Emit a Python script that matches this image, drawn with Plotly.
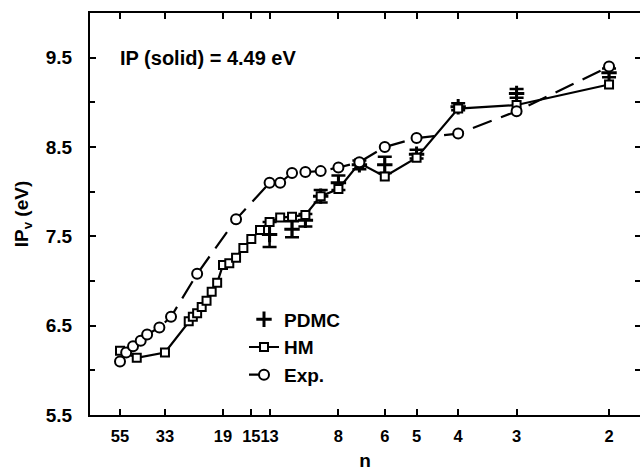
import plotly.graph_objects as go
import numpy as np

# ---- data ----
tick_n = [55, 33, 19, 15, 13, 8, 6, 5, 4, 3, 2]

exp_n = [55, 51, 47, 43, 40, 35, 31, 24, 17, 13, 12, 11, 10, 9, 8, 7, 6, 5, 4, 3, 2]
exp_ip = [6.10, 6.20, 6.27, 6.33, 6.40, 6.48, 6.60, 7.08, 7.69, 8.10, 8.10, 8.21, 8.22, 8.23,
          8.27, 8.33, 8.50, 8.60, 8.65, 8.90, 9.40]

hm_n = [55, 45, 33, 26, 25, 24, 23, 22, 21, 20, 19, 18, 17, 16, 15, 14, 13, 12, 11, 10,
        9, 8, 7, 6, 5, 4, 3, 2]
hm_ip = [6.22, 6.14, 6.20, 6.55, 6.60, 6.64, 6.71, 6.78, 6.88, 6.98, 7.18, 7.20, 7.26, 7.37,
         7.47, 7.57, 7.66, 7.71, 7.72, 7.74, 7.95, 8.03, 8.32, 8.17, 8.38, 8.93, 8.97, 9.20]

pdmc_n = [13, 11, 10, 9, 8, 7, 6, 5, 4, 3, 2]
pdmc_ip = [7.52, 7.58, 7.68, 7.95, 8.10, 8.30, 8.30, 8.42, 8.95, 9.10, 9.33]
pdmc_err = [0.14, 0.09, 0.07, 0.07, 0.08, 0.05, 0.09, 0.05, 0.04, 0.05, 0.05]

y_major = [5.5, 6.5, 7.5, 8.5, 9.5]
y_minor = [6.0, 7.0, 8.0, 9.0]


def xs(n):
    return np.asarray(n, dtype=float) ** (-1.0 / 3.0)


FONT = "Liberation Sans, Arial, Helvetica, sans-serif"
FS = 19

fig = go.Figure()

fig.add_trace(go.Scatter(
    x=xs(pdmc_n), y=pdmc_ip, mode="markers", name="PDMC",
    marker=dict(symbol="cross-thin", size=11, color="black",
                line=dict(color="black", width=3)),
    error_y=dict(type="data", array=pdmc_err, visible=True, color="black",
                 thickness=2.5, width=7),
))

fig.add_trace(go.Scatter(
    x=xs(hm_n), y=hm_ip, mode="lines+markers", name="HM",
    line=dict(color="black", width=2.2),
    marker=dict(symbol="square", size=8, color="white",
                line=dict(color="black", width=2)),
))

fig.add_trace(go.Scatter(
    x=xs(exp_n), y=exp_ip, mode="lines+markers", name="Exp.",
    line=dict(color="black", width=2.2, dash="20px,10px"),
    marker=dict(symbol="circle", size=10, color="white",
                line=dict(color="black", width=2)),
))

# empty helper trace so the right-hand tick axis gets drawn
fig.add_trace(go.Scatter(x=[], y=[], yaxis="y2", showlegend=False, hoverinfo="skip"))

fig.add_annotation(
    x=0.05, y=0.887, xref="paper", yref="paper", xanchor="left", yanchor="middle",
    text="IP (solid) = 4.49 eV", showarrow=False,
    font=dict(family=FONT, size=20, color="black", weight="bold"),
)

tickfont = dict(family=FONT, size=FS, color="black", weight="bold")
xtickfont = dict(family=FONT, size=16.5, color="black", weight="bold")

fig.update_xaxes(
    showline=True, linecolor="black", linewidth=2, mirror="ticks",
    ticks="inside", ticklen=6, tickwidth=2, tickcolor="black",
    showgrid=False, zeroline=False, tickfont=xtickfont, tickangle=0,
    ticklabelstandoff=5,
    range=[0.2304, 0.8273],
    tickmode="array", tickvals=list(xs(tick_n)), ticktext=[str(v) for v in tick_n],
    title=dict(text="n", font=tickfont, standoff=10),
)

fig.update_layout(
    yaxis=dict(
        showline=True, linecolor="black", linewidth=2, mirror=False,
        ticks="inside", ticklen=6, tickwidth=2, tickcolor="black",
        showgrid=False, zeroline=False, tickfont=tickfont,
        range=[5.5, 10.0],
        tickmode="array", tickvals=y_major, ticktext=[f"{v:.1f}" for v in y_major],
        minor=dict(tickmode="array", tickvals=y_minor, ticks="inside",
                   ticklen=5, tickwidth=2, tickcolor="black"),
        ticklabelstandoff=12,
        title=dict(text="IP<sub>v</sub> (eV)", font=tickfont, standoff=12),
    ),
    yaxis2=dict(
        overlaying="y", side="right", range=[5.5, 10.0], showline=False,
        showgrid=False, zeroline=False, showticklabels=False,
        ticks="inside", ticklen=5, tickwidth=2, tickcolor="black",
        tickmode="array", tickvals=y_major + y_minor,
    ),
    width=640, height=473,
    margin=dict(l=90, r=0, t=13, b=58),
    plot_bgcolor="white", paper_bgcolor="white",
    showlegend=True,
    legend=dict(x=0.28, y=0.285, xanchor="left", yanchor="top",
                bgcolor="rgba(0,0,0,0)", borderwidth=0,
                font=dict(family=FONT, size=FS, color="black", weight="bold"),
                tracegroupgap=0),
)

fig.write_html("out.html")
